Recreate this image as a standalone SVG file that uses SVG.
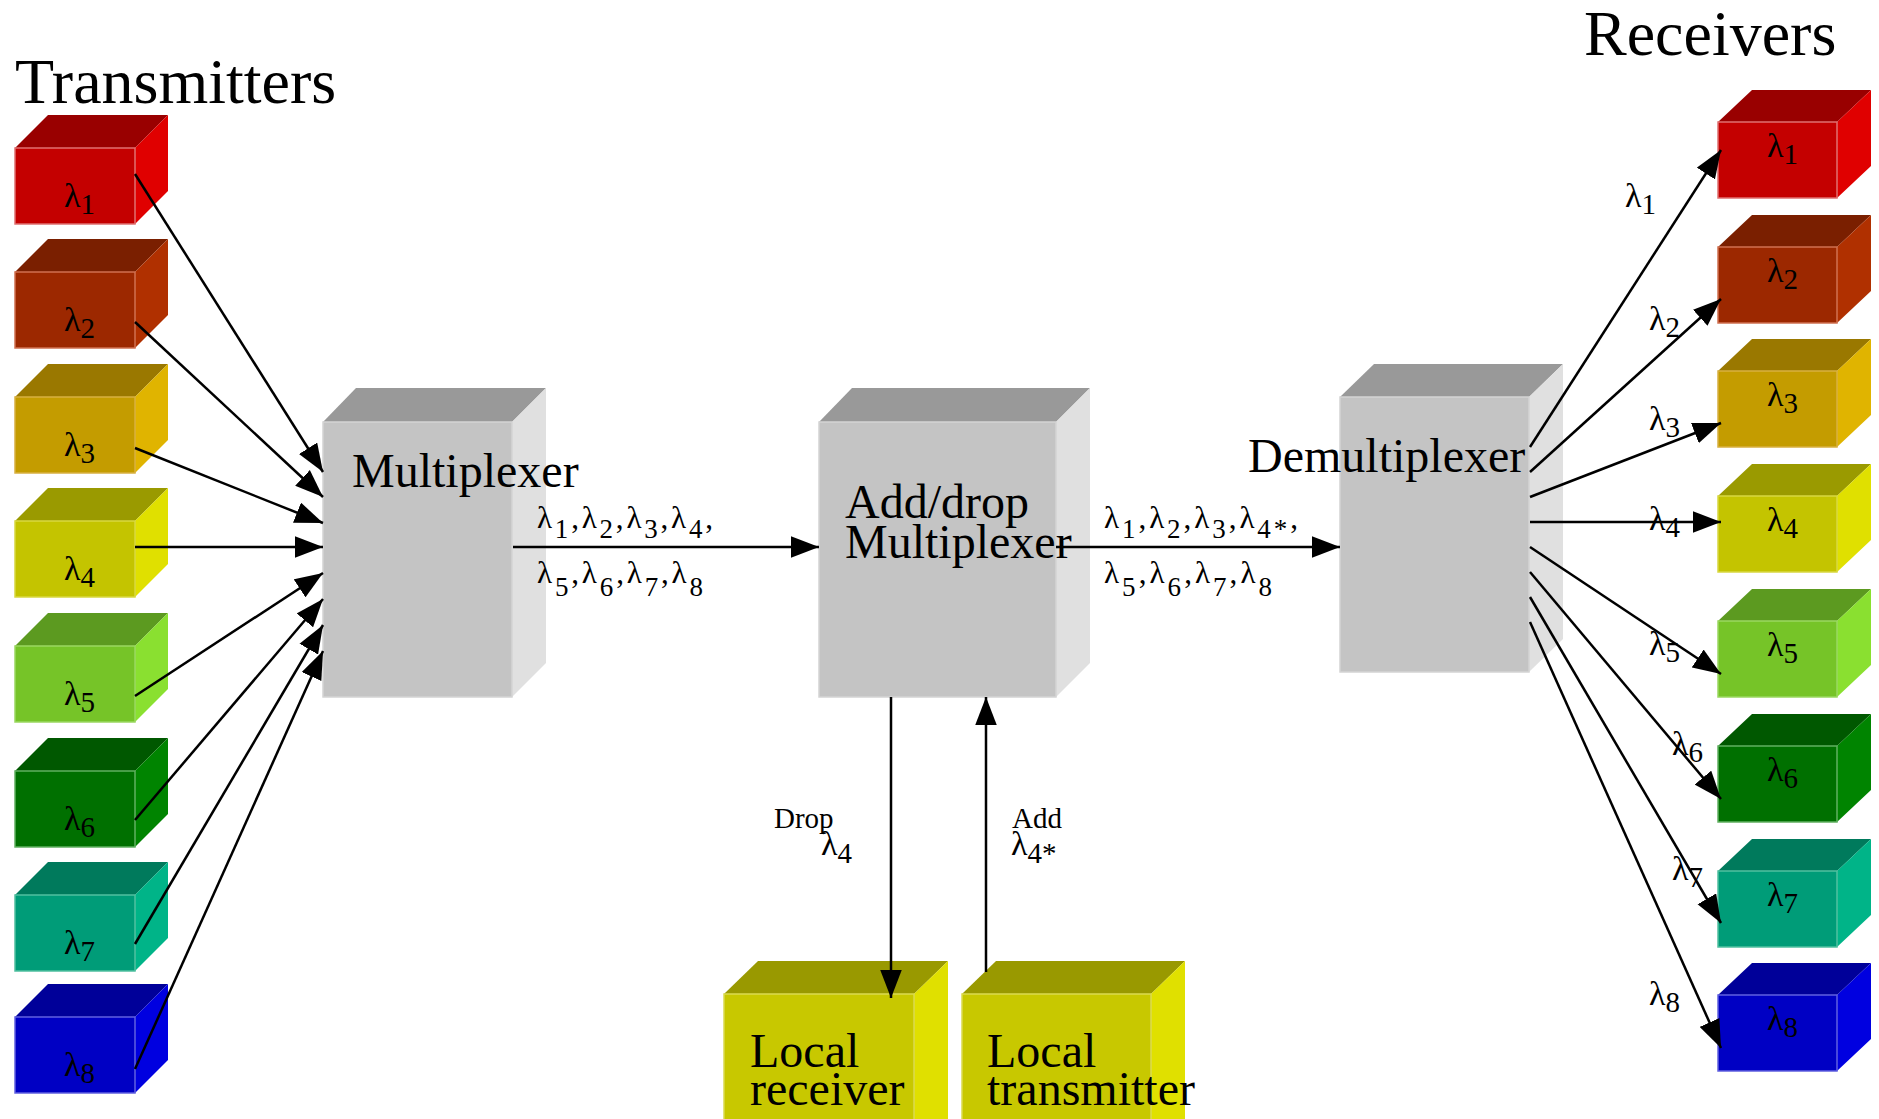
<svg xmlns="http://www.w3.org/2000/svg" width="1879" height="1119" viewBox="0 0 1879 1119">
<defs>
<style>
text{font-family:"Liberation Serif","Times New Roman",serif;fill:#000}
.big{font-size:64px}
.box{font-size:48px}
.lb{font-size:34px}
.sub{font-size:29px}
.ml{font-size:31px}
.ms{font-size:27px}
.sm{font-size:29px}
.edge{stroke-width:1.5}
.con line{stroke:#000;stroke-width:2.5;fill:none}
</style>
<marker id="ah" markerUnits="userSpaceOnUse" markerWidth="28" markerHeight="22" viewBox="0 0 26 20" refX="26" refY="10" orient="auto">
<path d="M0,0 L26,10 L0,20 z" fill="#000"/>
</marker>
</defs>
<rect width="1879" height="1119" fill="#fff"/>

<text class="big" x="15" y="103">Transmitters</text>
<text class="big" x="1584" y="55">Receivers</text>

<!-- Transmitters -->
<g id="tx1" transform="translate(15,148)">
<polygon points="0,0 33,-33 153,-33 120,0" fill="#990000"/><polygon points="120,0 153,-33 153,43 120,76" fill="#e00000"/><rect width="120" height="76" fill="#c40000" stroke="#e07070" class="edge"/>
<text class="lb" x="49" y="59">λ<tspan class="sub" dy="7">1</tspan></text></g>
<g id="tx2" transform="translate(15,272)">
<polygon points="0,0 33,-33 153,-33 120,0" fill="#7a1f00"/><polygon points="120,0 153,-33 153,43 120,76" fill="#b03000"/><rect width="120" height="76" fill="#9c2800" stroke="#d07050" class="edge"/>
<text class="lb" x="49" y="59">λ<tspan class="sub" dy="7">2</tspan></text></g>
<g id="tx3" transform="translate(15,397)">
<polygon points="0,0 33,-33 153,-33 120,0" fill="#9a7800"/><polygon points="120,0 153,-33 153,43 120,76" fill="#e0b400"/><rect width="120" height="76" fill="#c49c00" stroke="#d8b040" class="edge"/>
<text class="lb" x="49" y="59">λ<tspan class="sub" dy="7">3</tspan></text></g>
<g id="tx4" transform="translate(15,521)">
<polygon points="0,0 33,-33 153,-33 120,0" fill="#9a9a00"/><polygon points="120,0 153,-33 153,43 120,76" fill="#e0e000"/><rect width="120" height="76" fill="#c4c400" stroke="#d8d840" class="edge"/>
<text class="lb" x="49" y="59">λ<tspan class="sub" dy="7">4</tspan></text></g>
<g id="tx5" transform="translate(15,646)">
<polygon points="0,0 33,-33 153,-33 120,0" fill="#5c9a20"/><polygon points="120,0 153,-33 153,43 120,76" fill="#8ae030"/><rect width="120" height="76" fill="#76c428" stroke="#9ad860" class="edge"/>
<text class="lb" x="49" y="59">λ<tspan class="sub" dy="7">5</tspan></text></g>
<g id="tx6" transform="translate(15,771)">
<polygon points="0,0 33,-33 153,-33 120,0" fill="#005800"/><polygon points="120,0 153,-33 153,43 120,76" fill="#008400"/><rect width="120" height="76" fill="#007000" stroke="#60b060" class="edge"/>
<text class="lb" x="49" y="59">λ<tspan class="sub" dy="7">6</tspan></text></g>
<g id="tx7" transform="translate(15,895)">
<polygon points="0,0 33,-33 153,-33 120,0" fill="#007a5c"/><polygon points="120,0 153,-33 153,43 120,76" fill="#00b488"/><rect width="120" height="76" fill="#009c78" stroke="#50c0a0" class="edge"/>
<text class="lb" x="49" y="59">λ<tspan class="sub" dy="7">7</tspan></text></g>
<g id="tx8" transform="translate(15,1017)">
<polygon points="0,0 33,-33 153,-33 120,0" fill="#000099"/><polygon points="120,0 153,-33 153,43 120,76" fill="#0000e0"/><rect width="120" height="76" fill="#0000c4" stroke="#6060e0" class="edge"/>
<text class="lb" x="49" y="59">λ<tspan class="sub" dy="7">8</tspan></text></g>

<!-- Multiplexer -->
<g id="mux" transform="translate(323,422)">
<polygon points="0,0 33,-34 223,-34 189,0" fill="#999999"/><polygon points="189,0 223,-34 223,241 189,275" fill="#e0e0e0"/><rect width="189" height="275" fill="#c4c4c4" stroke="#d4d4d4" class="edge"/>
<text class="box" x="29" y="65">Multiplexer</text></g>

<!-- Add/drop -->
<g id="adm" transform="translate(819,422)">
<polygon points="0,0 33,-34 271,-34 237,0" fill="#999999"/><polygon points="237,0 271,-34 271,241 237,275" fill="#e0e0e0"/><rect width="237" height="275" fill="#c4c4c4" stroke="#d4d4d4" class="edge"/>
<text class="box" x="26" y="96">Add/drop</text>
<text class="box" x="26" y="136">Multiplexer</text></g>

<!-- Demultiplexer -->
<g id="demux" transform="translate(1340,397)">
<polygon points="0,0 34,-33 223,-33 189,0" fill="#999999"/><polygon points="189,0 223,-33 223,242 189,275" fill="#e0e0e0"/><rect width="189" height="275" fill="#c4c4c4" stroke="#d4d4d4" class="edge"/>
<text class="box" x="-92" y="75">Demultiplexer</text></g>

<!-- Local receiver / transmitter -->
<g id="lrx" transform="translate(724,994)">
<polygon points="0,0 34,-33 224,-33 190,0" fill="#999900"/><polygon points="190,0 224,-33 224,167 190,200" fill="#e0e000"/><rect width="190" height="200" fill="#c8c800" stroke="#dada50" class="edge"/>
<text class="box" x="26" y="73">Local</text><text class="box" x="26" y="111">receiver</text></g>
<g id="ltx" transform="translate(962,994)">
<polygon points="0,0 34,-33 223,-33 189,0" fill="#999900"/><polygon points="189,0 223,-33 223,167 189,200" fill="#e0e000"/><rect width="189" height="200" fill="#c8c800" stroke="#dada50" class="edge"/>
<text class="box" x="25" y="73">Local</text><text class="box" x="25" y="111">transmitter</text></g>

<!-- Receivers -->
<g id="rx1" transform="translate(1718,122)">
<polygon points="0,0 34,-32 153,-32 119,0" fill="#990000"/><polygon points="119,0 153,-32 153,44 119,76" fill="#e00000"/><rect width="119" height="76" fill="#c40000" stroke="#e07070" class="edge"/>
<text class="lb" x="49" y="35">λ<tspan class="sub" dy="7">1</tspan></text></g>
<g id="rx2" transform="translate(1718,247)">
<polygon points="0,0 34,-32 153,-32 119,0" fill="#7a1f00"/><polygon points="119,0 153,-32 153,44 119,76" fill="#b03000"/><rect width="119" height="76" fill="#9c2800" stroke="#d07050" class="edge"/>
<text class="lb" x="49" y="35">λ<tspan class="sub" dy="7">2</tspan></text></g>
<g id="rx3" transform="translate(1718,371)">
<polygon points="0,0 34,-32 153,-32 119,0" fill="#9a7800"/><polygon points="119,0 153,-32 153,44 119,76" fill="#e0b400"/><rect width="119" height="76" fill="#c49c00" stroke="#d8b040" class="edge"/>
<text class="lb" x="49" y="35">λ<tspan class="sub" dy="7">3</tspan></text></g>
<g id="rx4" transform="translate(1718,496)">
<polygon points="0,0 34,-32 153,-32 119,0" fill="#9a9a00"/><polygon points="119,0 153,-32 153,44 119,76" fill="#e0e000"/><rect width="119" height="76" fill="#c4c400" stroke="#d8d840" class="edge"/>
<text class="lb" x="49" y="35">λ<tspan class="sub" dy="7">4</tspan></text></g>
<g id="rx5" transform="translate(1718,621)">
<polygon points="0,0 34,-32 153,-32 119,0" fill="#5c9a20"/><polygon points="119,0 153,-32 153,44 119,76" fill="#8ae030"/><rect width="119" height="76" fill="#76c428" stroke="#9ad860" class="edge"/>
<text class="lb" x="49" y="35">λ<tspan class="sub" dy="7">5</tspan></text></g>
<g id="rx6" transform="translate(1718,746)">
<polygon points="0,0 34,-32 153,-32 119,0" fill="#005800"/><polygon points="119,0 153,-32 153,44 119,76" fill="#008400"/><rect width="119" height="76" fill="#007000" stroke="#60b060" class="edge"/>
<text class="lb" x="49" y="35">λ<tspan class="sub" dy="7">6</tspan></text></g>
<g id="rx7" transform="translate(1718,871)">
<polygon points="0,0 34,-32 153,-32 119,0" fill="#007a5c"/><polygon points="119,0 153,-32 153,44 119,76" fill="#00b488"/><rect width="119" height="76" fill="#009c78" stroke="#50c0a0" class="edge"/>
<text class="lb" x="49" y="35">λ<tspan class="sub" dy="7">7</tspan></text></g>
<g id="rx8" transform="translate(1718,995)">
<polygon points="0,0 34,-32 153,-32 119,0" fill="#000099"/><polygon points="119,0 153,-32 153,44 119,76" fill="#0000e0"/><rect width="119" height="76" fill="#0000c4" stroke="#6060e0" class="edge"/>
<text class="lb" x="49" y="35">λ<tspan class="sub" dy="7">8</tspan></text></g>

<!-- Connectors -->
<g id="connectors" class="con">
<line x1="135" y1="174" x2="323" y2="472" marker-end="url(#ah)"/>
<line x1="135" y1="322" x2="323" y2="497" marker-end="url(#ah)"/>
<line x1="135" y1="448" x2="323" y2="523" marker-end="url(#ah)"/>
<line x1="135" y1="547" x2="323" y2="547" marker-end="url(#ah)"/>
<line x1="135" y1="696" x2="323" y2="573" marker-end="url(#ah)"/>
<line x1="135" y1="820" x2="323" y2="599" marker-end="url(#ah)"/>
<line x1="135" y1="944" x2="323" y2="625" marker-end="url(#ah)"/>
<line x1="135" y1="1069" x2="323" y2="651" marker-end="url(#ah)"/>
<line x1="513" y1="547" x2="819" y2="547" marker-end="url(#ah)"/>
<line x1="1056" y1="547" x2="1340" y2="547" marker-end="url(#ah)"/>
<line x1="891" y1="697" x2="891" y2="998" marker-end="url(#ah)"/>
<line x1="986" y1="972" x2="986" y2="697" marker-end="url(#ah)"/>
<line x1="1530" y1="447" x2="1721" y2="150" marker-end="url(#ah)"/>
<line x1="1530" y1="472" x2="1721" y2="299" marker-end="url(#ah)"/>
<line x1="1530" y1="497" x2="1721" y2="423" marker-end="url(#ah)"/>
<line x1="1530" y1="522" x2="1721" y2="522" marker-end="url(#ah)"/>
<line x1="1530" y1="547" x2="1721" y2="674" marker-end="url(#ah)"/>
<line x1="1530" y1="572" x2="1721" y2="799" marker-end="url(#ah)"/>
<line x1="1530" y1="597" x2="1721" y2="923" marker-end="url(#ah)"/>
<line x1="1530" y1="622" x2="1721" y2="1048" marker-end="url(#ah)"/>
</g>

<!-- Connector labels -->
<g id="labels">
<text class="ml" x="537" y="528" textLength="176" lengthAdjust="spacing">λ<tspan class="ms" dy="10">1</tspan><tspan dy="-10">,λ</tspan><tspan class="ms" dy="10">2</tspan><tspan dy="-10">,λ</tspan><tspan class="ms" dy="10">3</tspan><tspan dy="-10">,λ</tspan><tspan class="ms" dy="10">4</tspan><tspan dy="-10">,</tspan></text>
<text class="ml" x="537" y="583" textLength="166" lengthAdjust="spacing">λ<tspan class="ms" dy="13">5</tspan><tspan dy="-13">,λ</tspan><tspan class="ms" dy="13">6</tspan><tspan dy="-13">,λ</tspan><tspan class="ms" dy="13">7</tspan><tspan dy="-13">,λ</tspan><tspan class="ms" dy="13">8</tspan></text>
<text class="ml" x="1104" y="528" textLength="194" lengthAdjust="spacing">λ<tspan class="ms" dy="10">1</tspan><tspan dy="-10">,λ</tspan><tspan class="ms" dy="10">2</tspan><tspan dy="-10">,λ</tspan><tspan class="ms" dy="10">3</tspan><tspan dy="-10">,λ</tspan><tspan class="ms" dy="10">4*</tspan><tspan dy="-10">,</tspan></text>
<text class="ml" x="1104" y="583" textLength="168" lengthAdjust="spacing">λ<tspan class="ms" dy="13">5</tspan><tspan dy="-13">,λ</tspan><tspan class="ms" dy="13">6</tspan><tspan dy="-13">,λ</tspan><tspan class="ms" dy="13">7</tspan><tspan dy="-13">,λ</tspan><tspan class="ms" dy="13">8</tspan></text>
<text class="sm" x="774" y="828">Drop</text>
<text class="lb" x="821" y="855">λ<tspan class="sub" dy="8">4</tspan></text>
<text class="sm" x="1012" y="828">Add</text>
<text class="lb" x="1011" y="855">λ<tspan class="sub" dy="8">4*</tspan></text>
<text class="lb" x="1625" y="207">λ<tspan class="sub" dy="7">1</tspan></text>
<text class="lb" x="1649" y="330">λ<tspan class="sub" dy="7">2</tspan></text>
<text class="lb" x="1649" y="430">λ<tspan class="sub" dy="7">3</tspan></text>
<text class="lb" x="1649" y="530">λ<tspan class="sub" dy="7">4</tspan></text>
<text class="lb" x="1649" y="655">λ<tspan class="sub" dy="7">5</tspan></text>
<text class="lb" x="1672" y="755">λ<tspan class="sub" dy="7">6</tspan></text>
<text class="lb" x="1672" y="880">λ<tspan class="sub" dy="7">7</tspan></text>
<text class="lb" x="1649" y="1005">λ<tspan class="sub" dy="7">8</tspan></text>
</g>
</svg>
